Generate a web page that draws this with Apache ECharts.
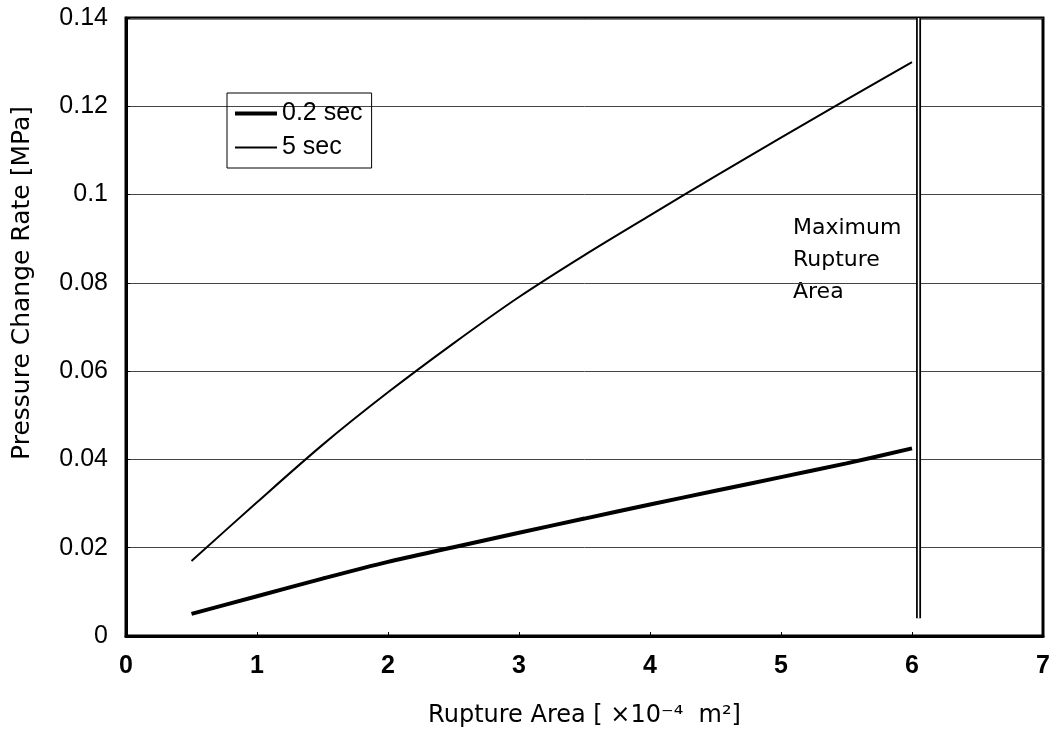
<!DOCTYPE html>
<html>
<head>
<meta charset="utf-8">
<script src="https://cdn.jsdelivr.net/npm/echarts@6/dist/echarts.min.js"></script>
<style>
  html, body { margin: 0; padding: 0; background: #fff; }
  #chart { width: 1054px; height: 734px; }
</style>
</head>
<body>
<div id="chart"></div>
<script>
// rupture area [x10^-4 m2]
const areas = [0.5, 1, 1.5, 2, 2.5, 3, 3.5, 4, 4.5, 5, 5.5, 6]
// pressure change rate [MPa]
const rate02 = [0.005, 0.009, 0.013, 0.0168, 0.0201, 0.0234, 0.0266, 0.0298, 0.0329, 0.036, 0.0391, 0.0425]
const rate5 = [0.017, 0.0303, 0.0433, 0.0552, 0.0663, 0.0768, 0.0863, 0.0953, 0.1042, 0.1129, 0.1215, 0.130]
// maximum rupture area marker
const maxArea = 6.05
const maxLineY = [0.004, 0.14]
const yTicks = ['0', '0.02', '0.04', '0.06', '0.08', '0.1', '0.12', '0.14']

const pairs = (xs, ys) => xs.map((x, i) => [x, ys[i]])

const myChart = echarts.init(document.getElementById('chart'))
const font = 'Liberation Sans, Arial, sans-serif'
const wide = 'DejaVu Sans, sans-serif'

const option = {
    animation: false,
    textStyle: { fontFamily: font, color: '#000' },
    grid: {
        left: 126, right: 11, top: 18, bottom: 98,
        show: true,
        borderColor: '#000',
        borderWidth: 3,
        containLabel: false
    },
    legend: {
        data: [
            { name: '0.2 sec', lineStyle: { width: 4 } },
            { name: '5 sec', lineStyle: { width: 2 } }
        ],
        orient: 'vertical',
        left: 227,
        top: 93,
        itemWidth: 42,
        itemHeight: 20,
        itemGap: 9,
        padding: [8, 9, 8, 6],
        borderColor: '#000',
        borderWidth: 1,
        borderRadius: 0,
        itemStyle: { color: 'rgba(0,0,0,0)', borderWidth: 0 },
        textStyle: { fontSize: 25, color: '#000', fontFamily: font }
    },
    xAxis: {
        type: 'value',
        min: 0, max: 7, interval: 1,
        name: 'Rupture Area [ ×10⁻⁴  m²]',
        nameLocation: 'middle',
        nameGap: 68,
        nameTextStyle: { fontSize: 24, color: '#000', fontFamily: wide },
        axisLine: { show: true, onZero: false, lineStyle: { color: '#000', width: 3 } },
        axisTick: { show: true, inside: true, length: 4, lineStyle: { color: '#000' } },
        axisLabel: { fontSize: 25, fontWeight: 'bold', color: '#000', margin: 18 },
        splitLine: { show: false }
    },
    yAxis: {
        type: 'value',
        min: 0, max: 0.14, interval: 0.02,
        name: 'Pressure Change Rate [MPa]',
        nameLocation: 'middle',
        nameGap: 91,
        nameTextStyle: { fontSize: 25, color: '#000', fontFamily: wide, padding: [0, 0, 0, 88] },
        axisLine: { show: true, lineStyle: { color: '#000', width: 3 } },
        axisTick: { show: true, inside: true, length: 4, lineStyle: { color: '#000' } },
        axisLabel: {
            fontSize: 25, color: '#000', margin: 18,
            formatter: (v) => yTicks[Math.round(v / 0.02)]
        },
        splitLine: { show: true, lineStyle: { color: '#444', width: 1 } }
    },
    series: [
        {
            name: '0.2 sec',
            type: 'line',
            data: pairs(areas, rate02),
            showSymbol: false,
            symbol: 'none',
            smooth: 0.3,
            lineStyle: { color: '#000', width: 4 },
            itemStyle: { color: '#000' }
        },
        {
            name: '5 sec',
            type: 'line',
            data: pairs(areas, rate5),
            showSymbol: false,
            symbol: 'none',
            smooth: 0.3,
            lineStyle: { color: '#000', width: 2 },
            itemStyle: { color: '#000' }
        },
        {
            name: 'max',
            type: 'line',
            data: maxLineY.map(y => [maxArea, y]),
            symbol: 'none',
            lineStyle: { color: '#000', width: 5 },
            z: 3
        },
        {
            name: 'max-gap',
            type: 'line',
            data: maxLineY.map(y => [maxArea, y]),
            symbol: 'none',
            lineStyle: { color: '#fff', width: 1.5 },
            z: 4
        }
    ],
    graphic: [
        {
            type: 'text',
            left: 793,
            top: 212,
            style: {
                text: 'Maximum\nRupture\nArea',
                font: '22px ' + wide,
                lineHeight: 32,
                fill: '#000'
            }
        }
    ]
}

myChart.setOption(option)
window.addEventListener('resize', () => {
    myChart.resize()
})
</script>
</body>
</html>
